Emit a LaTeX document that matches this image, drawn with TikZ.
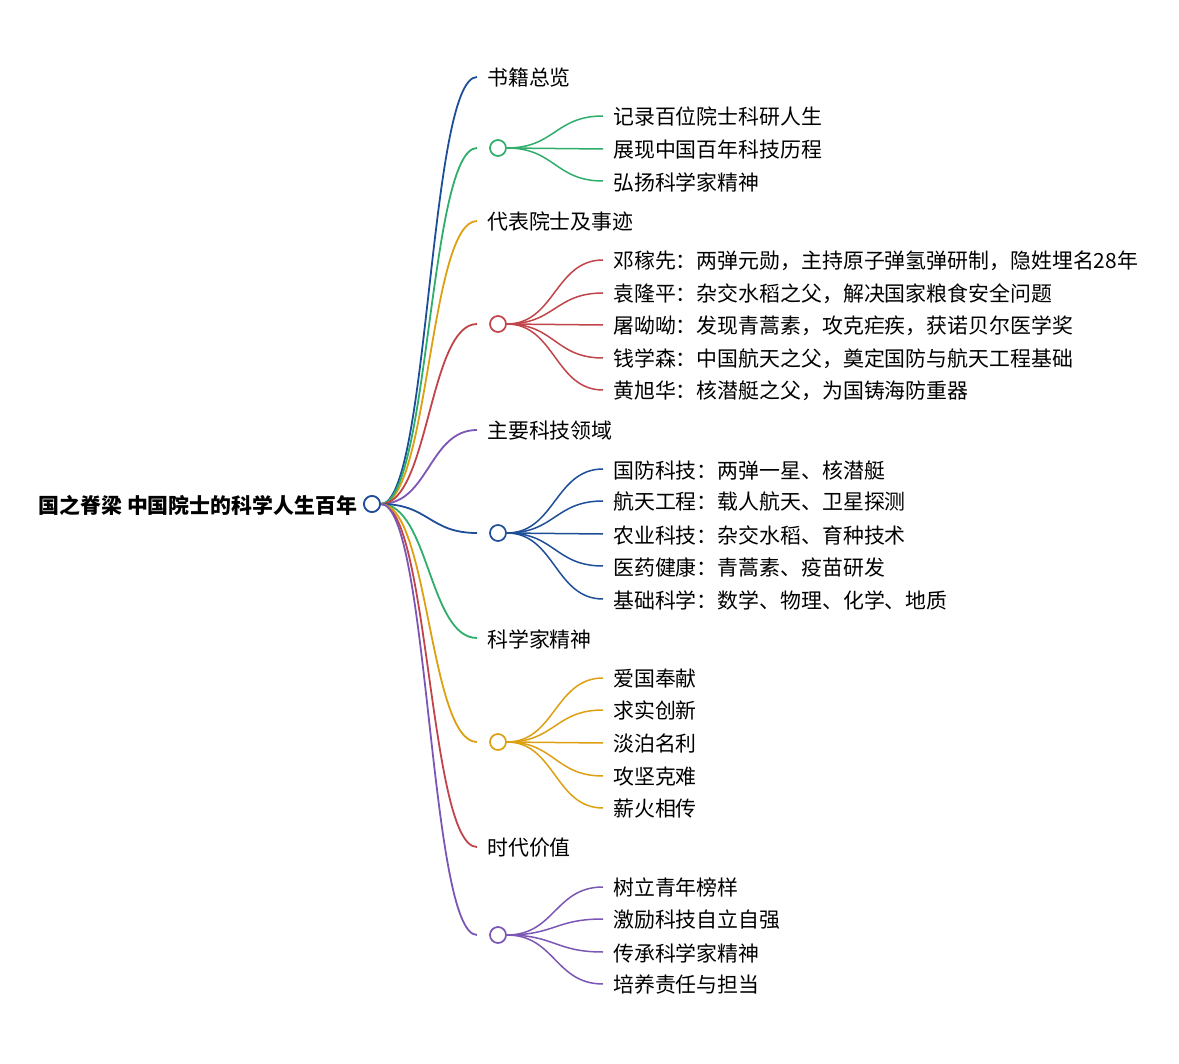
\documentclass[tikz,border=0pt]{standalone}
\usepackage{fontspec}
\setmainfont{Noto Sans CJK SC}
\usepackage{tikz}
\usetikzlibrary{positioning}
\definecolor{mblue}{HTML}{1F4E99}
\definecolor{mgreen}{HTML}{2EAD6B}
\definecolor{mgold}{HTML}{DDA012}
\definecolor{mred}{HTML}{C0444A}
\definecolor{mpurple}{HTML}{7B56B5}
\tikzset{
	hub/.style={
		draw, circle, minimum size=16pt,
		inner sep=0pt, line width=1.7pt, fill=white
	},
	leaf/.style={
		anchor=west, inner sep=0pt, text=black,
		font=\fontsize{20.9}{24}\selectfont
	},
	title/.style={
		inner sep=0pt, text=black,
		font=\bfseries\fontsize{20.9}{24}\selectfont
	},
	trunk/.style={line width=1.8pt, draw=#1},
	twig/.style={line width=1.5pt, draw=#1},
	sway/.style={to path={.. controls +(48,0) and +(-48,0) .. (\tikztotarget)}}
}
\begin{document}
\begin{tikzpicture}[x=1pt,y=-1pt]
	\useasboundingbox (0,0) rectangle (1179,1064);
	\node[hub, draw=mblue] (R) at (372,504) {};
	\node[title, left=6pt of R, yshift=-1pt] (RT) {国之脊梁 中国院士的科学人生百年};
	% first level labels
	\foreach \name/\y/\col/\txt in {B1/77/mblue/书籍总览, B2/221/mgold/代表院士及事迹,
		B3/430/mpurple/主要科技领域, B4/638/mgreen/科学家精神, B5/847/mred/时代价值} {
		\coordinate (\name e) at (477,\y);
		\node[leaf] (\name) at (487,\y+1) {\txt};
		\draw[trunk=\col] (R.east) to[sway] (\name e);
	}
	% first level hubs
	\foreach \name/\y/\col in {G1/148/mgreen, G2/324/mred, G3/533/mblue, G4/742/mgold, G5/935/mpurple} {
		\coordinate (\name e) at (477,\y);
		\draw[trunk=\col] (R.east) to[sway] (\name e);
		\node[hub, draw=\col] (\name) at (498,\y) {};
	}
	\node[hub, draw=mblue] at (R) {};
	% second level
	\foreach \i/\y/\txt in {1/116/记录百位院士科研人生, 2/149/展现中国百年科技历程, 3/181/弘扬科学家精神} {
		\coordinate (G1c\i) at (603,\y);
		\node[leaf] (G1t\i) at (613,\y+1) {\txt};
		\draw[twig=mgreen] (G1.east) to[sway] (G1c\i);
	}
	\foreach \i/\y/\txt in {1/260/邓稼先：两弹元勋，主持原子弹氢弹研制，隐姓埋名28年,
		2/293/袁隆平：杂交水稻之父，解决国家粮食安全问题,
		3/325/屠呦呦：发现青蒿素，攻克疟疾，获诺贝尔医学奖,
		4/358/钱学森：中国航天之父，奠定国防与航天工程基础,
		5/390/黄旭华：核潜艇之父，为国铸海防重器} {
		\coordinate (G2c\i) at (603,\y);
		\node[leaf] (G2t\i) at (613,\y+1) {\txt};
		\draw[twig=mred] (G2.east) to[sway] (G2c\i);
	}
	\foreach \i/\y/\txt in {1/469/国防科技：两弹一星、核潜艇,
		2/501/航天工程：载人航天、卫星探测,
		3/534/农业科技：杂交水稻、育种技术,
		4/566/医药健康：青蒿素、疫苗研发,
		5/599/基础科学：数学、物理、化学、地质} {
		\coordinate (G3c\i) at (603,\y);
		\node[leaf] (G3t\i) at (613,\y+1) {\txt};
		\draw[twig=mblue] (G3.east) to[sway] (G3c\i);
	}
	\foreach \i/\y/\txt in {1/678/爱国奉献, 2/710/求实创新, 3/743/淡泊名利, 4/776/攻坚克难, 5/808/薪火相传} {
		\coordinate (G4c\i) at (603,\y);
		\node[leaf] (G4t\i) at (613,\y+1) {\txt};
		\draw[twig=mgold] (G4.east) to[sway] (G4c\i);
	}
	\foreach \i/\y/\txt in {1/887/树立青年榜样, 2/919/激励科技自立自强, 3/952/传承科学家精神, 4/984/培养责任与担当} {
		\coordinate (G5c\i) at (603,\y);
		\node[leaf] (G5t\i) at (613,\y+1) {\txt};
		\draw[twig=mpurple] (G5.east) to[sway] (G5c\i);
	}
\end{tikzpicture}
\end{document}
